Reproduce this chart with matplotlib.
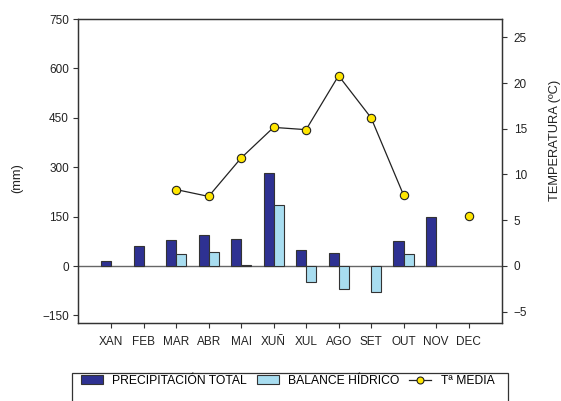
import numpy as np
import matplotlib
matplotlib.use("Agg")
import matplotlib.pyplot as plt
from matplotlib.lines import Line2D
from matplotlib.patches import Patch, Rectangle

plt.rcParams['font.family'] = ['Liberation Sans', 'DejaVu Sans']
plt.rcParams['font.size'] = 8.5

months = ["XAN", "FEB", "MAR", "ABR", "MAI", "XUÑ", "XUL", "AGO", "SET", "OUT", "NOV", "DEC"]
precip = [14, 60, 80, 93, 82, 283, 50, 39, np.nan, 76, 150, np.nan]
balance = [np.nan, np.nan, 35, 44, 3, 186, -48, -71, -79, 37, np.nan, np.nan]
temp = [np.nan, np.nan, 8.35, 7.6, 11.8, 15.15, 14.9, 20.8, 16.2, 7.75, np.nan, 5.5]
left_ticks = [-150, 0, 150, 300, 450, 600, 750]
right_ticks = [-5, 0, 5, 10, 15, 20, 25]

navy = "#2E3192"
light = "#A8DDF0"
edge = "#333333"

fig = plt.figure(figsize=(5.61, 4.01), dpi=100)
ax = fig.add_axes([78/561, 1-323/401, (502-78)/561, (323-19)/401])
x = np.arange(len(months))
w = 0.31
ax.bar(x - w/2, precip, w, color=navy, edgecolor=edge, linewidth=0.8, zorder=3)
ax.bar(x + w/2, balance, w, color=light, edgecolor=edge, linewidth=0.8, zorder=3)
ax.axhline(0, color="#666666", linewidth=1.0, zorder=2)
ax.set_xlim(-1.02, 12.03)
ax.set_ylim(-173, 750)
ax.set_yticks(left_ticks)
ax.set_xticks(x)
ax.set_xticklabels(months)
ax.tick_params(direction='out', length=3.5, width=0.8, color="#333333", labelcolor="#222222", pad=3, labelsize=8.5)
ax.tick_params(axis='x', pad=6)
for s in ax.spines.values():
    s.set_color("#333333")
    s.set_linewidth(0.9)

ax2 = ax.twinx()
ax2.plot(x, temp, color="#222222", linewidth=0.9, marker='o', markersize=6,
         markerfacecolor="#FFE600", markeredgecolor="#222222", markeredgewidth=0.8, zorder=4)
ax2.set_ylim(-6.24, 27.0)
ax2.set_yticks(right_ticks)
ax2.tick_params(direction='out', length=3.5, width=0.8, color="#333333", labelcolor="#222222", pad=5, labelsize=8.5)
for s in ax2.spines.values():
    s.set_color("#333333")
    s.set_linewidth(0.9)

fig.text(17/561, 1-178/401, "(mm)", rotation=90, ha='center', va='center', fontsize=9.3, color="#222222")
fig.text(555/561, 1-140/401, "TEMPERATURA (ºC)", rotation=90, ha='center', va='center', fontsize=9.3, color="#222222")

handles = [Patch(facecolor=navy, edgecolor=edge, linewidth=0.8),
           Patch(facecolor=light, edgecolor=edge, linewidth=0.8),
           Line2D([0], [0], color="#222222", linewidth=0.9, marker='o', markersize=5,
                  markerfacecolor="#FFE600", markeredgecolor="#222222", markeredgewidth=0.8)]
labels = ["PRECIPITACIÓN TOTAL", "BALANCE HÍDRICO", "Tª MEDIA"]
leg = fig.legend(handles, labels, loc='center left', ncol=3,
                 bbox_to_anchor=(81/561, 1-381/401),
                 frameon=False, fontsize=8.7,
                 handlelength=1.8, handleheight=0.75, columnspacing=0.8, handletextpad=0.8,
                 borderpad=0, borderaxespad=0)
fig.patches.append(Rectangle((72/561, 1-420/401), 436/561, 47/401, transform=fig.transFigure,
                             fill=False, edgecolor="#333333", linewidth=0.9))

fig.savefig("out.png", dpi=100)
